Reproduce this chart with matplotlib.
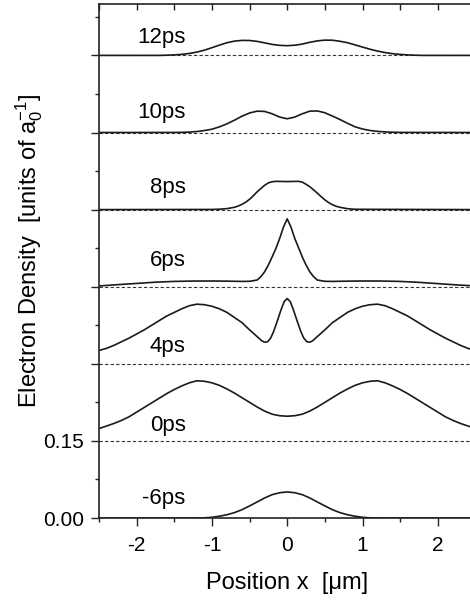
import matplotlib
matplotlib.use('Agg')
import matplotlib.pyplot as plt
from matplotlib.ticker import MultipleLocator, FixedLocator

plt.rcParams['font.family'] = ['Liberation Sans', 'DejaVu Sans']
plt.rcParams['mathtext.fontset'] = 'custom'
plt.rcParams['mathtext.rm'] = 'Liberation Sans'
plt.rcParams['axes.unicode_minus'] = False

# vertical step between stacked curves
step = 0.15

labels = ['-6ps', '0ps', '4ps', '6ps', '8ps', '10ps', '12ps']

# ---- curves (x in um, density above own baseline) ----
x_m6 = [-2.5, -1.2, -1.1, -1.0, -0.9, -0.8, -0.7, -0.6, -0.5, -0.4, -0.3, -0.2, -0.1, 0.0,
        0.1, 0.2, 0.3, 0.4, 0.5, 0.6, 0.7, 0.8, 0.9, 1.0, 1.1, 1.2, 2.5]
y_m6 = [0.0, 0.0, 0.0003, 0.0014, 0.0035, 0.0064, 0.0105, 0.0162, 0.0235, 0.0312, 0.0390, 0.0454, 0.0492, 0.0507,
        0.0492, 0.0454, 0.0390, 0.0312, 0.0235, 0.0162, 0.0105, 0.0064, 0.0035, 0.0014, 0.0003, 0.0, 0.0]

x_0 = [-2.5, -2.4, -2.3, -2.2, -2.1, -2.0, -1.9, -1.8, -1.7, -1.6, -1.5, -1.4, -1.3, -1.2, -1.1, -1.0,
       -0.9, -0.8, -0.7, -0.6, -0.5, -0.4, -0.3, -0.2, -0.1, 0.0,
       0.1, 0.2, 0.3, 0.4, 0.5, 0.6, 0.7, 0.8, 0.9, 1.0, 1.1, 1.2, 1.3, 1.4, 1.5,
       1.6, 1.7, 1.8, 1.9, 2.0, 2.1, 2.2, 2.3, 2.4, 2.5]
y_0 = [0.024, 0.029, 0.034, 0.040, 0.047, 0.056, 0.065, 0.074, 0.083, 0.092, 0.100, 0.107, 0.113, 0.117, 0.116, 0.113,
       0.108, 0.101, 0.093, 0.084, 0.075, 0.066, 0.058, 0.052, 0.049, 0.048,
       0.049, 0.052, 0.058, 0.066, 0.075, 0.084, 0.093, 0.101, 0.108, 0.113, 0.116, 0.117, 0.113, 0.107, 0.100,
       0.092, 0.083, 0.074, 0.065, 0.056, 0.047, 0.040, 0.034, 0.029, 0.025]

x_4 = [-2.5, -2.4, -2.3, -2.2, -2.1, -2.0, -1.9, -1.8, -1.7, -1.6, -1.5, -1.4, -1.3, -1.2, -1.1, -1.0,
       -0.9, -0.8, -0.7, -0.6, -0.5, -0.4, -0.34, -0.3, -0.26, -0.22, -0.18, -0.13, -0.08, -0.04, 0.0,
       0.04, 0.08, 0.13, 0.18, 0.22, 0.26, 0.3, 0.34, 0.4, 0.5, 0.6, 0.7, 0.8, 0.9, 1.0, 1.1, 1.2,
       1.3, 1.4, 1.5, 1.6, 1.7, 1.8, 1.9, 2.0, 2.1, 2.2, 2.3, 2.4, 2.5]
y_4 = [0.026, 0.030, 0.036, 0.043, 0.050, 0.058, 0.066, 0.075, 0.084, 0.093, 0.100, 0.107, 0.113, 0.116, 0.115, 0.112,
       0.107, 0.100, 0.090, 0.080, 0.066, 0.053, 0.045, 0.042, 0.043, 0.050, 0.063, 0.084, 0.106, 0.121, 0.127,
       0.121, 0.106, 0.084, 0.063, 0.050, 0.043, 0.042, 0.045, 0.053, 0.066, 0.080, 0.090, 0.100, 0.107, 0.112, 0.115, 0.116,
       0.113, 0.107, 0.100, 0.093, 0.084, 0.075, 0.066, 0.058, 0.050, 0.043, 0.036, 0.030, 0.026]

x_6 = [-2.5, -2.25, -2.0, -1.75, -1.5, -1.25, -1.0, -0.8, -0.6, -0.5, -0.45, -0.4, -0.35, -0.3, -0.25, -0.2,
       -0.15, -0.1, -0.05, 0.0, 0.05, 0.1, 0.15, 0.2, 0.25, 0.3, 0.35, 0.4, 0.45, 0.5, 0.6, 0.8,
       1.0, 1.25, 1.5, 1.75, 2.0, 2.25, 2.5]
y_6 = [0.0014, 0.0040, 0.0064, 0.0088, 0.0103, 0.0110, 0.0111, 0.0108, 0.0103, 0.0105, 0.0117, 0.0130, 0.0195, 0.0290, 0.0423, 0.0580,
       0.0746, 0.0940, 0.1160, 0.1320, 0.1160, 0.0940, 0.0760, 0.0580, 0.0423, 0.0290, 0.0195, 0.0130, 0.0117, 0.0105, 0.0103, 0.0108,
       0.0111, 0.0110, 0.0103, 0.0085, 0.0060, 0.0035, 0.0014]

x_8 = [-2.5, -1.0, -0.9, -0.8, -0.7, -0.65, -0.6, -0.55, -0.5, -0.45, -0.4, -0.35, -0.3, -0.25, -0.2, -0.15, -0.1,
       0.0, 0.1, 0.15, 0.2, 0.25, 0.3, 0.35, 0.4, 0.45, 0.5, 0.55, 0.6, 0.65, 0.7, 0.8, 0.9, 2.5]
y_8 = [0.0, 0.0003, 0.0008, 0.0019, 0.0045, 0.0070, 0.0103, 0.0145, 0.0201, 0.0270, 0.0345, 0.0410, 0.0473, 0.0520, 0.0542, 0.0550, 0.0548,
       0.0546, 0.0548, 0.0550, 0.0535, 0.0493, 0.0445, 0.0384, 0.0320, 0.0253, 0.0190, 0.0136, 0.0095, 0.0065, 0.0045, 0.0018, 0.0006, 0.0]

x_10 = [-2.5, -1.5, -1.4, -1.3, -1.2, -1.1, -1.0, -0.9, -0.8, -0.7, -0.6, -0.5, -0.4, -0.3, -0.2, -0.1, 0.0,
        0.1, 0.2, 0.3, 0.4, 0.5, 0.6, 0.7, 0.8, 0.9, 1.0, 1.1, 1.2, 1.3, 1.4, 1.5, 2.5]
y_10 = [0.0, 0.0001, 0.0003, 0.0008, 0.0019, 0.0038, 0.0064, 0.0110, 0.0169, 0.0240, 0.0318, 0.0380, 0.0415, 0.0410, 0.0364, 0.0300, 0.0267,
        0.0300, 0.0364, 0.0415, 0.0420, 0.0384, 0.0320, 0.0253, 0.0180, 0.0111, 0.0068, 0.0039, 0.0022, 0.0012, 0.0005, 0.0002, 0.0]

x_12 = [-2.5, -1.7, -1.6, -1.5, -1.4, -1.3, -1.2, -1.1, -1.0, -0.9, -0.8, -0.7, -0.6, -0.5, -0.4, -0.3, -0.2, -0.1, 0.0,
        0.1, 0.2, 0.3, 0.4, 0.5, 0.6, 0.7, 0.8, 0.9, 1.0, 1.1, 1.2, 1.3, 1.4, 1.5, 1.6, 1.7, 1.8, 2.5]
y_12 = [0.0, 0.0, 0.0004, 0.0010, 0.0020, 0.0038, 0.0064, 0.0102, 0.0150, 0.0200, 0.0247, 0.0278, 0.0292, 0.0290, 0.0273, 0.0244, 0.0214, 0.0195, 0.0189,
        0.0198, 0.0220, 0.0255, 0.0282, 0.0297, 0.0295, 0.0275, 0.0247, 0.0205, 0.0162, 0.0120, 0.0084, 0.0055, 0.0033, 0.0019, 0.0010, 0.0004, 0.0, 0.0]

# label height above baseline
label_dy = [0.027, 0.020, 0.023, 0.041, 0.033, 0.029, 0.025]

curves = [(x_m6, y_m6), (x_0, y_0), (x_4, y_4), (x_6, y_6), (x_8, y_8), (x_10, y_10), (x_12, y_12)]

fig = plt.figure(figsize=(4.7, 6.06), dpi=100)
ax = fig.add_axes([0.2106, 0.1452, 0.801, 0.8482])

for i, (xs, ys) in enumerate(curves):
    base = i * step
    if i > 0:
        ax.plot([-2.5, 2.5], [base, base], color='#333333', lw=0.8, ls=(0, (3, 2)))
    ax.plot(xs, [base + v for v in ys], color='#1a1a1a', lw=1.2)
    ax.text(-1.35, base + label_dy[i], labels[i], ha='right', va='baseline', fontsize=16)

ax.set_xlim(-2.5, 2.5)
ax.set_ylim(0, 1.0)

ax.xaxis.set_major_locator(MultipleLocator(1))
ax.xaxis.set_minor_locator(MultipleLocator(0.5))
ax.yaxis.set_major_locator(FixedLocator([i * step for i in range(7)]))
ax.yaxis.set_minor_locator(FixedLocator([i * step + step / 2 for i in range(7)]))
ax.set_yticklabels(['0.00', '0.15', '', '', '', '', ''])

ax.tick_params(axis='both', which='major', direction='out', length=6, width=1.0, labelsize=15, color='#222222')
ax.tick_params(axis='both', which='minor', direction='out', length=3, width=1.0, color='#222222')
ax.tick_params(axis='x', which='major', pad=7)
ax.tick_params(axis='y', which='major', pad=5)

# small inward ticks along the top edge
top = ax.secondary_xaxis('top')
top.set_xticks([-2.5 + 0.5 * k for k in range(11)])
top.tick_params(direction='in', length=4, width=1.0, labeltop=False, color='#222222')
top.spines['top'].set_visible(False)

for s in ['left', 'bottom', 'top']:
    ax.spines[s].set_linewidth(1.2)
    ax.spines[s].set_color('#222222')
ax.spines['right'].set_visible(False)

ax.set_xlabel('Position x  [\u03bcm]', fontsize=17)
ax.set_ylabel('Electron Density  [units of $\\mathregular{a_0^{-1}}$]', fontsize=17)
ax.xaxis.set_label_coords(0.5, -0.105)
ax.yaxis.set_label_coords(-0.143, 0.52)

fig.savefig('out.png', dpi=100)
